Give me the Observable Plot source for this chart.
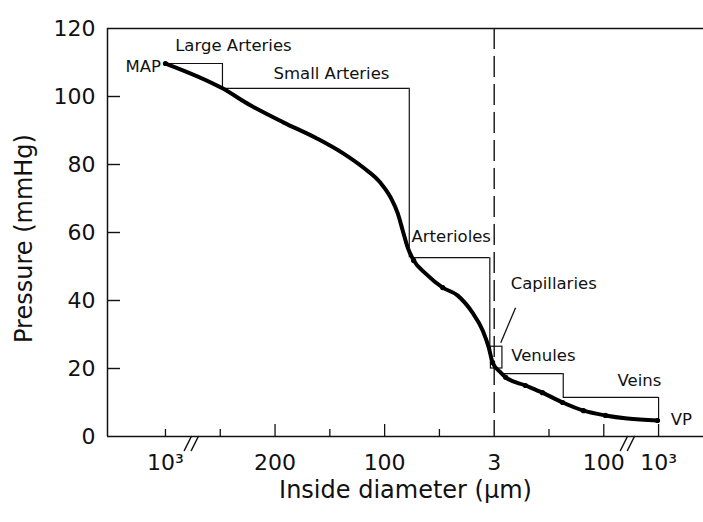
<!DOCTYPE html>
<html>
<head>
<meta charset="utf-8">
<script src="https://cdn.jsdelivr.net/npm/d3@7"></script>
<script src="https://cdn.jsdelivr.net/npm/@observablehq/plot@0.6"></script>
<style>
  html, body { margin: 0; padding: 0; background: #fff; }
  #chart svg { display: block; }
</style>
</head>
<body>
<div id="chart"></div>
<script>
// ---- data ----
const xTickIdx = [0, 1, 2, 3, 4, 5, 6, 7, 8, 9];
const xTickLabels = ["10³", "", "200", "", "100", "", "3", "", "100", "10³"];
const majorTickIdx = [2, 4, 8, 9];
const breakIdx = [0.49, 8.45];
const yTicks = [0, 20, 40, 60, 80, 100, 120];

// pressure curve (x = tick index position along broken diameter axis)
const curveX = [0, 1.04, 1.55, 2.15, 2.77, 3.25, 3.61, 3.92, 4.11, 4.24, 4.33, 4.42, 4.53, 4.75, 5.06, 5.33, 5.60, 5.79, 5.90, 5.97, 6.12, 6.21, 6.57, 6.88, 7.25, 7.63, 8.03, 8.43, 8.98];
const curveP = [109.7, 102.4, 97.4, 92.4, 87.6, 83.2, 79.1, 74.7, 70.3, 65.6, 60.6, 55.6, 51.8, 47.9, 43.8, 41.5, 36.5, 31.2, 26.2, 21.8, 18.8, 17.4, 15.0, 12.9, 10.0, 7.6, 6.2, 5.3, 4.7];
const markerX = [0, 4.53, 5.06, 5.97, 6.21, 6.57, 6.88, 7.25, 7.63, 8.03, 8.98];
const markerP = [109.7, 51.8, 43.8, 21.8, 17.4, 15.0, 12.9, 10.0, 7.6, 6.2, 4.7];

// segment brackets
const segNames = ["Large Arteries", "Small Arteries", "Arterioles", "Venules", "Veins"];
const segX1 = [0, 1.04, 4.53, 6.15, 7.26];
const segX2 = [1.04, 4.45, 5.92, 7.26, 9.0];
const segTop = [109.7, 102.4, 52.6, 18.5, 11.5];
const segBottom = [102.4, 52.6, 26.4, 11.5, 4.8];
// capillaries box
const capX1 = [5.94], capX2 = [6.15], capY1 = [20.0], capY2 = [26.4];
const capPointer = [{x1: 6.12, y1: 27.6, x2: 6.39, y2: 37.9}];

// annotation labels
const annoText = ["MAP", "Large Arteries", "Small Arteries", "Arterioles", "Capillaries", "Venules", "Veins", "VP"];
const annoX = [-0.08, 1.24, 3.03, 4.49, 6.30, 6.31, 8.25, 9.22];
const annoY = [108.8, 115.0, 106.8, 58.7, 44.8, 23.9, 16.5, 5.0];
const annoAnchor = ["end", "middle", "middle", "start", "start", "start", "start", "start"];

// ---- build ----
const curve = curveX.map((x, i) => ({x, p: curveP[i]}));
const markers = markerX.map((x, i) => ({x, p: markerP[i]}));
const segs = segNames.map((n, i) => ({n, x1: segX1[i], x2: segX2[i], top: segTop[i], bottom: segBottom[i]}));
const caps = capX1.map((x1, i) => ({x1, x2: capX2[i], y1: capY1[i], y2: capY2[i]}));
const annos = annoText.map((t, i) => ({t, x: annoX[i], y: annoY[i], a: annoAnchor[i]}));

const W = 703, H = 522, mL = 107, mR = 0, mT = 28, mB = 86;
const frameW = W - mL - mR, frameH = H - mT - mB;
const xDomain = [-1.058, 9.82];
const font = "'DejaVu Sans', 'Liberation Sans', Arial, sans-serif";
const ink = "#111";

const slashes = {
  draw(context) {
    context.moveTo(-8, 7); context.lineTo(-1, -7);
    context.moveTo(-1, 7); context.lineTo(6, -7);
  }
};

const chart = Plot.plot({
  width: W, height: H,
  marginLeft: mL, marginRight: mR, marginTop: mT, marginBottom: mB,
  style: {fontFamily: font, color: ink, background: "#fff"},
  x: {domain: xDomain},
  y: {domain: [0, 120]},
  marks: [
    // frame lines
    Plot.ruleY([0], {stroke: ink, strokeWidth: 1.6}),
    Plot.ruleY([120], {stroke: ink, strokeWidth: 1.3}),
    Plot.ruleX([xDomain[0]], {stroke: ink, strokeWidth: 1.5}),
    // inward ticks
    Plot.tickY(yTicks.filter(v => v > 0 && v < 120), {y: d => d, stroke: ink, strokeWidth: 1.4, insetRight: frameW - 13}),
    Plot.tickX(xTickIdx.filter(v => !majorTickIdx.includes(v) && v !== 6), {x: d => d, stroke: ink, strokeWidth: 1.3, insetTop: frameH - 7}),
    Plot.tickX(majorTickIdx, {x: d => d, stroke: ink, strokeWidth: 1.3, insetTop: frameH - 12}),
    // axis break marks
    Plot.vector(breakIdx, {x: d => d, frameAnchor: "bottom", anchor: "middle", shape: slashes, length: 14, stroke: ink, strokeWidth: 1.5}),
    // axis labels
    Plot.axisY({ticks: yTicks, tickSize: 0, tickPadding: 12, fontSize: 22, label: null}),
    Plot.axisX(xTickIdx.filter((d, i) => xTickLabels[i] !== ""), {
      tickFormat: d => xTickLabels[xTickIdx.indexOf(d)],
      tickSize: 0, tickPadding: 18, fontSize: 22, label: null
    }),
    Plot.text(["Pressure (mmHg)"], {frameAnchor: "left", textAnchor: "middle", dx: -83, dy: 6, rotate: -90, fontSize: 24, fill: ink}),
    Plot.text(["Inside diameter (\u03bcm)"], {frameAnchor: "bottom", textAnchor: "middle", dy: 61, fontSize: 24, fill: ink}),
    // dashed capillary divider
    Plot.ruleX([6], {stroke: ink, strokeWidth: 1.4, strokeDasharray: "21,7"}),
    // brackets
    Plot.ruleY(segs, {y: "top", x1: "x1", x2: "x2", stroke: ink, strokeWidth: 1.2}),
    Plot.ruleX(segs, {x: "x2", y1: "top", y2: "bottom", stroke: ink, strokeWidth: 1.2}),
    Plot.rect(caps, {x1: "x1", x2: "x2", y1: "y1", y2: "y2", fill: "none", stroke: ink, strokeWidth: 1.2}),
    Plot.link(capPointer, {x1: "x1", y1: "y1", x2: "x2", y2: "y2", stroke: ink, strokeWidth: 1.3}),
    // pressure curve
    Plot.line(curve, {x: "x", y: "p", curve: "monotone-x", stroke: "#000", strokeWidth: 4, strokeLinecap: "round"}),
    Plot.dot(markers, {x: "x", y: "p", r: 2.6, fill: "#000"}),
    // annotations
    Plot.text(annos.filter(d => d.a === "start"), {x: "x", y: "y", text: "t", textAnchor: "start", fontSize: 16.5, fill: ink}),
    Plot.text(annos.filter(d => d.a === "middle"), {x: "x", y: "y", text: "t", textAnchor: "middle", fontSize: 16.5, fill: ink}),
    Plot.text(annos.filter(d => d.a === "end"), {x: "x", y: "y", text: "t", textAnchor: "end", fontSize: 16.5, fill: ink})
  ]
});
document.getElementById("chart").append(chart);
</script>
</body>
</html>
